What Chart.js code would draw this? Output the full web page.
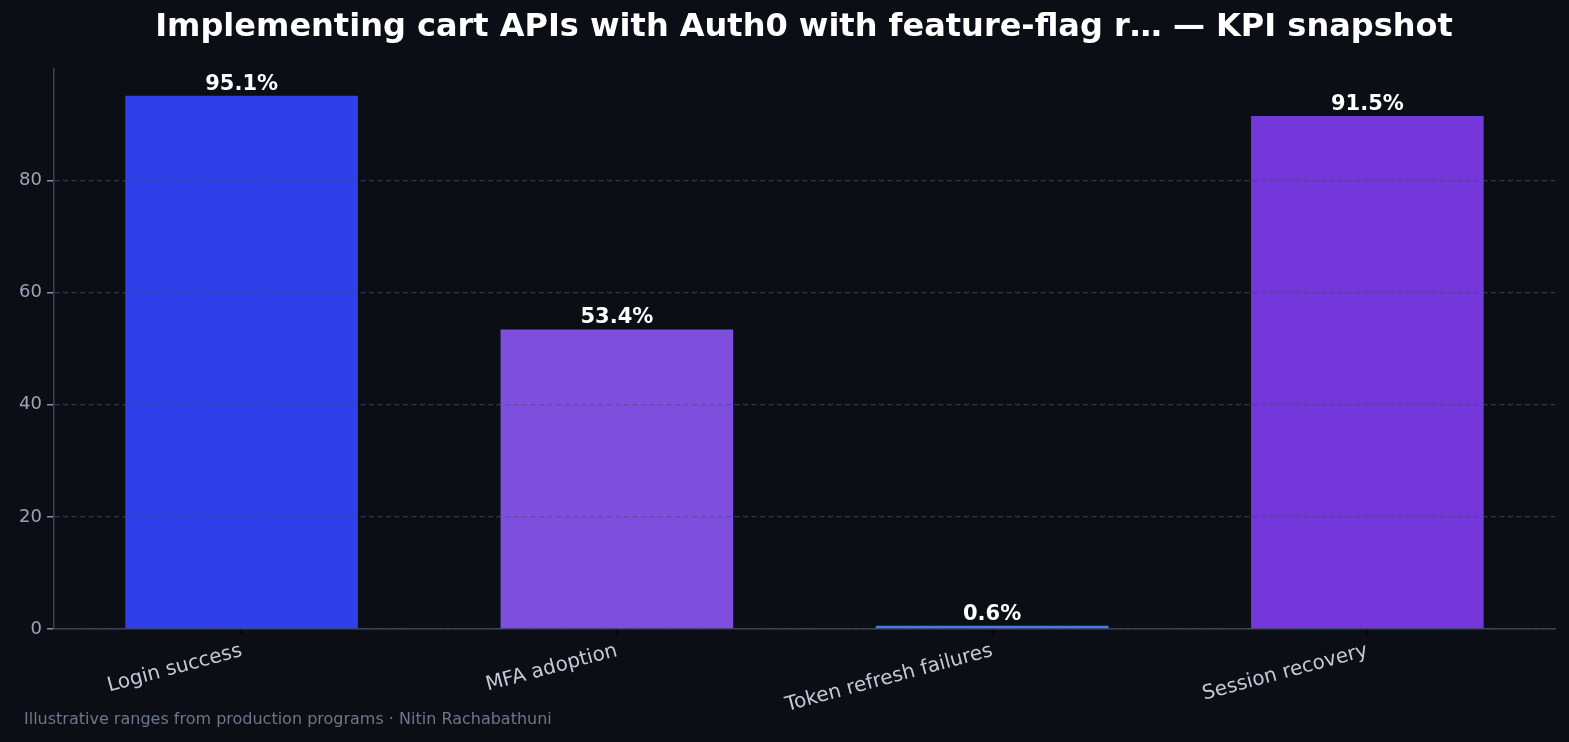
<!DOCTYPE html>
<html>
<head>
<meta charset="utf-8">
<script src="https://cdn.jsdelivr.net/npm/chart.js@4"></script>
<style>
  html, body { margin: 0; padding: 0; background: #0b0e15; }
  #wrap { width: 1569px; height: 742px; }
</style>
</head>
<body>
<div id="wrap"><canvas id="kpiChart" width="1569" height="742"></canvas></div>
<script>
const titleText = 'Implementing cart APIs with Auth0 with feature-flag r\u2026 \u2014 KPI snapshot';
const footerText = 'Illustrative ranges from production programs \u00b7 Nitin Rachabathuni';

const categories = ['Login success', 'MFA adoption', 'Token refresh failures', 'Session recovery'];
const values = [95.1, 53.4, 0.6, 91.5];
const barColors = ['#2f40ea', '#7e4edd', '#4a7cdc', '#7437d9'];
const yTicks = [0, 20, 40, 60, 80];

const FONT = "'DejaVu Sans', sans-serif";

// title, footer and value labels on top of bars
const annotate = {
    id: 'annotate',
    afterDatasetsDraw(chart) {
        const ctx = chart.ctx;
        const meta = chart.getDatasetMeta(0);
        // grid sits on top of the bars in the original
        ctx.save();
        chart.scales.y.drawGrid(chart.chartArea);
        ctx.restore();
        ctx.save();
        ctx.fillStyle = '#ffffff';
        ctx.font = 'bold 21px ' + FONT;
        ctx.textAlign = 'center';
        ctx.textBaseline = 'bottom';
        meta.data.forEach(function(bar, i) {
            ctx.fillText(values[i].toFixed(1) + '%', bar.x, bar.y - 1);
        });
        ctx.restore();
    },
    afterDraw(chart) {
        const ctx = chart.ctx;
        ctx.save();
        ctx.fillStyle = '#ffffff';
        ctx.font = 'bold 32px ' + FONT;
        ctx.textAlign = 'center';
        ctx.textBaseline = 'middle';
        ctx.fillText(titleText, 804, 28);
        ctx.fillStyle = '#6b778a';
        ctx.font = '16px ' + FONT;
        ctx.textAlign = 'left';
        ctx.fillText(footerText, 24, 720);
        ctx.restore();
    }
};

new Chart(document.getElementById('kpiChart').getContext('2d'), {
    type: 'bar',
    data: {
        labels: categories,
        datasets: [{
            data: values,
            backgroundColor: barColors,
            barPercentage: 0.62,
            categoryPercentage: 1.0
        }]
    },
    options: {
        responsive: false,
        animation: false,
        layout: {
            padding: { left: 0, right: 14, top: 69, bottom: 0 }
        },
        plugins: {
            legend: { display: false },
            tooltip: { enabled: false }
        },
        scales: {
            x: {
                grid: {
                    offset: false,
                    drawOnChartArea: false,
                    drawTicks: true,
                    tickLength: 5,
                    tickColor: '#000000',
                    tickWidth: 1.5
                },
                border: { color: '#3a4356', width: 1.5 },
                ticks: {
                    color: '#c3cad6',
                    font: { family: FONT, size: 20 },
                    minRotation: 15,
                    maxRotation: 15,
                    padding: 5
                },
                afterFit(scale) { scale.height = 113; }
            },
            y: {
                min: 0,
                max: 99.86,
                afterBuildTicks(scale) {
                    scale.ticks = yTicks.map(function(v) { return { value: v }; });
                },
                grid: {
                    color: 'rgba(60, 70, 110, 0.45)',
                    lineWidth: 1.3,
                    tickColor: '#8590a4',
                    tickLength: 7,
                    tickBorderDash: [],
                    tickWidth: 1.3
                },
                border: { color: '#3a4356', width: 1.5, dash: [5, 3.5] },
                ticks: {
                    color: '#9aa5b8',
                    font: { family: FONT, size: 18 },
                    padding: 5
                },
                afterFit(scale) { scale.width = 54; }
            }
        }
    },
    plugins: [annotate]
});
</script>
</body>
</html>
